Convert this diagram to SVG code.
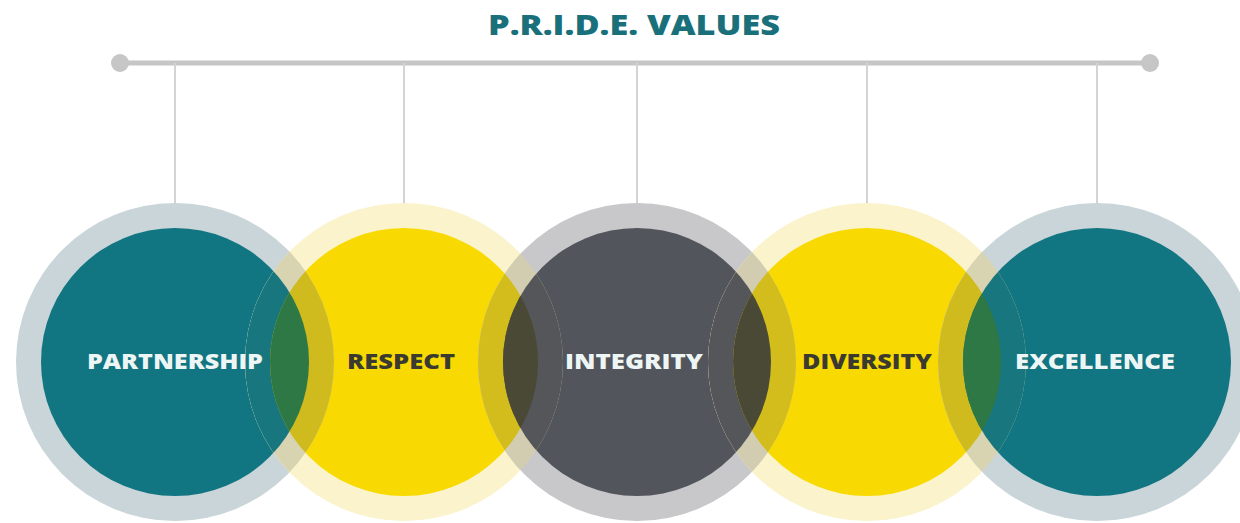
<svg xmlns="http://www.w3.org/2000/svg" width="1240" height="523" viewBox="0 0 1240 523">
<style>
.bar{stroke:#c6c6c6;stroke-width:5;stroke-linecap:round}
.dot{fill:#c6c6c6}
.drop{stroke:#d4d4d4;stroke-width:2}
.ringT{fill:#c9d5d9}
.ringY{fill:#faf3cc}
.ringG{fill:#c8c8ca}
.teal{fill:#127682}
.yel{fill:#f8da02}
.dark{fill:#52555b}
.lbl{font-family:"Open Sans","Liberation Sans",sans-serif;font-weight:800;font-size:21px;text-anchor:middle}
.lw{fill:#eef5f5}
.ld{fill:#3b3a30}
.title{font-family:"Open Sans","Liberation Sans",sans-serif;font-weight:800;font-size:29px;fill:#19707a;text-anchor:middle}
</style>
<defs>
<clipPath id="o2"><circle cx="404" cy="362" r="159"/></clipPath>
<clipPath id="i2"><circle cx="404" cy="362" r="134"/></clipPath>
<clipPath id="o3"><circle cx="637" cy="362" r="159"/></clipPath>
<clipPath id="i3"><circle cx="637" cy="362" r="134"/></clipPath>
<clipPath id="o4"><circle cx="867" cy="362" r="159"/></clipPath>
<clipPath id="i4"><circle cx="867" cy="362" r="134"/></clipPath>
<clipPath id="o5"><circle cx="1097" cy="362" r="159"/></clipPath>
<clipPath id="i5"><circle cx="1097" cy="362" r="134"/></clipPath>
</defs>
<rect width="1240" height="523" fill="#ffffff"/>
<text class="title" x="634" y="35" textLength="292" lengthAdjust="spacingAndGlyphs">P.R.I.D.E. VALUES</text>
<g id="connectors">
<line class="bar" x1="120" y1="63" x2="1150" y2="63"/>
<circle class="dot" cx="120" cy="63" r="9"/>
<circle class="dot" cx="1150" cy="63" r="9"/>
<line class="drop" x1="175" y1="63" x2="175" y2="203"/>
<line class="drop" x1="404" y1="63" x2="404" y2="203"/>
<line class="drop" x1="637" y1="63" x2="637" y2="203"/>
<line class="drop" x1="867" y1="63" x2="867" y2="203"/>
<line class="drop" x1="1097" y1="63" x2="1097" y2="203"/>
</g>
<g id="node-partnership">
<circle class="ringT" cx="175" cy="362" r="159"/>
<circle class="teal" cx="175" cy="362" r="134"/>
</g>
<g id="node-respect">
<circle class="ringY" cx="404" cy="362" r="159"/>
<circle class="yel" cx="404" cy="362" r="134"/>
</g>
<g id="node-integrity">
<circle class="ringG" cx="637" cy="362" r="159"/>
<circle class="dark" cx="637" cy="362" r="134"/>
</g>
<g id="node-diversity">
<circle class="ringY" cx="867" cy="362" r="159"/>
<circle class="yel" cx="867" cy="362" r="134"/>
</g>
<g id="node-excellence">
<circle class="ringT" cx="1097" cy="362" r="159"/>
<circle class="teal" cx="1097" cy="362" r="134"/>
</g>
<g id="overlaps">
<circle cx="175" cy="362" r="159" clip-path="url(#o2)" fill="#d8d4b2"/>
<circle cx="175" cy="362" r="134" clip-path="url(#o2)" fill="#18777e"/>
<circle cx="175" cy="362" r="159" clip-path="url(#i2)" fill="#d0bb1e"/>
<circle cx="175" cy="362" r="134" clip-path="url(#i2)" fill="#2e7845"/>
<circle cx="404" cy="362" r="159" clip-path="url(#o3)" fill="#d2cdb0"/>
<circle cx="404" cy="362" r="134" clip-path="url(#o3)" fill="#d3bd1c"/>
<circle cx="404" cy="362" r="159" clip-path="url(#i3)" fill="#545659"/>
<circle cx="404" cy="362" r="134" clip-path="url(#i3)" fill="#4a4936"/>
<circle cx="637" cy="362" r="159" clip-path="url(#o4)" fill="#d2cdb0"/>
<circle cx="637" cy="362" r="134" clip-path="url(#o4)" fill="#545659"/>
<circle cx="637" cy="362" r="159" clip-path="url(#i4)" fill="#d3bd1c"/>
<circle cx="637" cy="362" r="134" clip-path="url(#i4)" fill="#4a4936"/>
<circle cx="867" cy="362" r="159" clip-path="url(#o5)" fill="#d8d4b2"/>
<circle cx="867" cy="362" r="134" clip-path="url(#o5)" fill="#d0bb1e"/>
<circle cx="867" cy="362" r="159" clip-path="url(#i5)" fill="#18777e"/>
<circle cx="867" cy="362" r="134" clip-path="url(#i5)" fill="#2e7845"/>
</g>
<g id="labels">
<text class="lbl lw" x="175" y="369" textLength="176" lengthAdjust="spacingAndGlyphs">PARTNERSHIP</text>
<text class="lbl ld" x="401" y="369" textLength="108" lengthAdjust="spacingAndGlyphs">RESPECT</text>
<text class="lbl lw" x="634" y="369" textLength="138" lengthAdjust="spacingAndGlyphs">INTEGRITY</text>
<text class="lbl ld" x="867" y="369" textLength="130" lengthAdjust="spacingAndGlyphs">DIVERSITY</text>
<text class="lbl lw" x="1095" y="369" textLength="160" lengthAdjust="spacingAndGlyphs">EXCELLENCE</text>
</g>
</svg>
